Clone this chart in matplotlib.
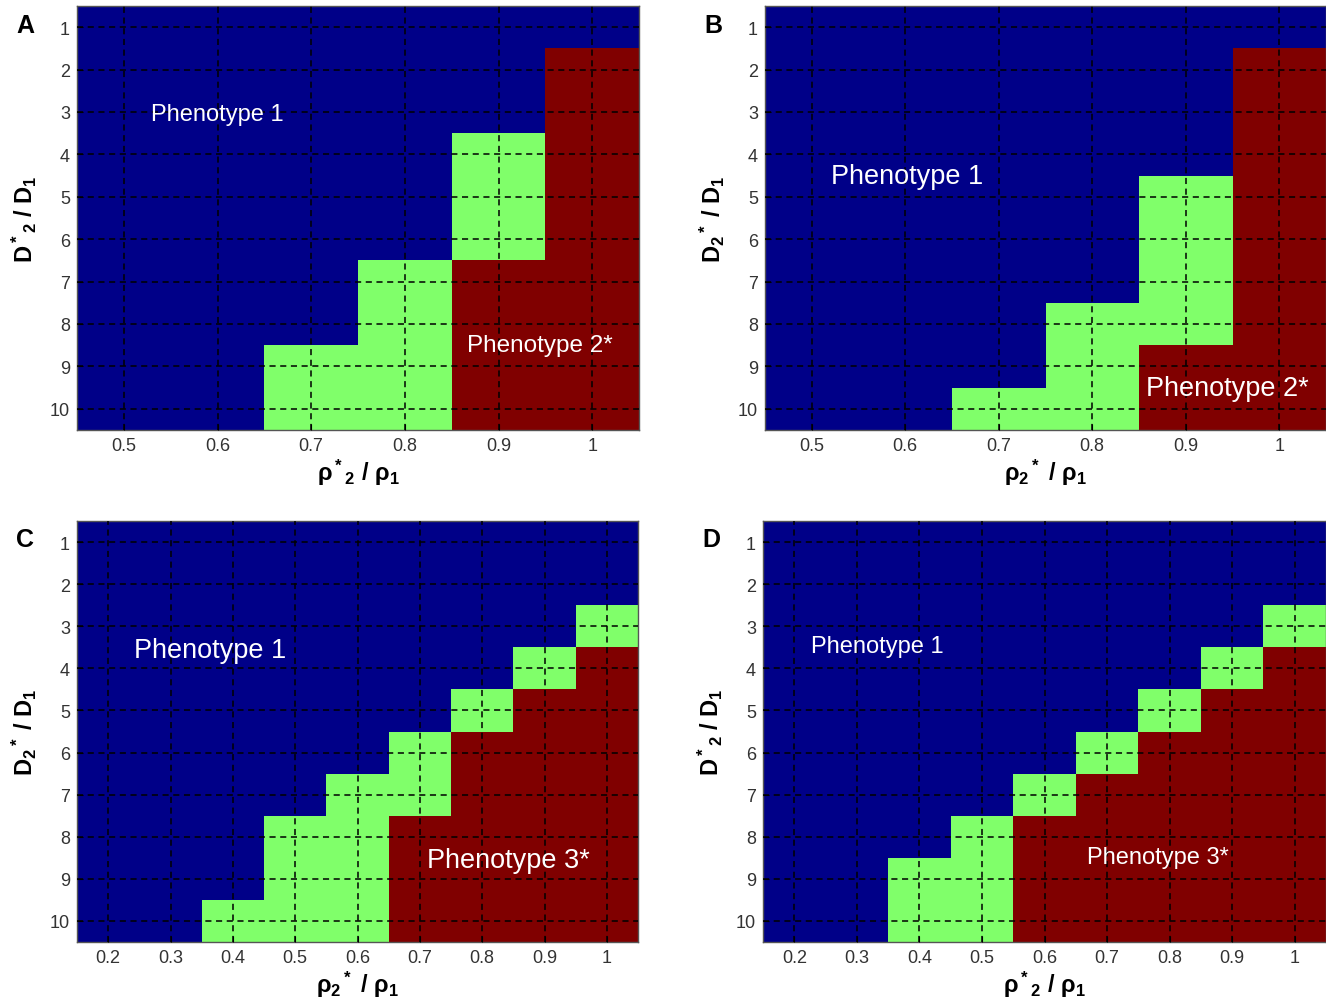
import numpy as np
import matplotlib
matplotlib.use("Agg")
import matplotlib.pyplot as plt
from matplotlib.colors import ListedColormap

plt.rcParams['font.family'] = ['Liberation Sans', 'DejaVu Sans']
plt.rcParams['mathtext.fontset'] = 'custom'
plt.rcParams['mathtext.rm'] = 'Liberation Sans'
plt.rcParams['mathtext.bf'] = 'Liberation Sans:bold'
plt.rcParams['mathtext.it'] = 'Liberation Sans:italic'
plt.rcParams['mathtext.sf'] = 'Liberation Sans'

# Phenotype codes: 0 = Phenotype 1 (blue), 1 = mixed (green), 2 = Phenotype 2*/3* (red)
D_ratio = list(range(1, 11))                       # rows, D*2/D1 = 1..10
rho_AB = [0.5, 0.6, 0.7, 0.8, 0.9, 1.0]            # columns of panels A, B
rho_CD = [0.2, 0.3, 0.4, 0.5, 0.6, 0.7, 0.8, 0.9, 1.0]  # columns of panels C, D

# Each list: column-wise phenotype code for rows D = 1..10
grid_A = {
    0.5: [0,0,0,0,0,0,0,0,0,0],
    0.6: [0,0,0,0,0,0,0,0,0,0],
    0.7: [0,0,0,0,0,0,0,0,1,1],
    0.8: [0,0,0,0,0,0,1,1,1,1],
    0.9: [0,0,0,1,1,1,2,2,2,2],
    1.0: [0,2,2,2,2,2,2,2,2,2],
}
grid_B = {
    0.5: [0,0,0,0,0,0,0,0,0,0],
    0.6: [0,0,0,0,0,0,0,0,0,0],
    0.7: [0,0,0,0,0,0,0,0,0,1],
    0.8: [0,0,0,0,0,0,0,1,1,1],
    0.9: [0,0,0,0,1,1,1,1,2,2],
    1.0: [0,2,2,2,2,2,2,2,2,2],
}
grid_C = {
    0.2: [0,0,0,0,0,0,0,0,0,0],
    0.3: [0,0,0,0,0,0,0,0,0,0],
    0.4: [0,0,0,0,0,0,0,0,0,1],
    0.5: [0,0,0,0,0,0,0,1,1,1],
    0.6: [0,0,0,0,0,0,1,1,1,1],
    0.7: [0,0,0,0,0,1,1,2,2,2],
    0.8: [0,0,0,0,1,2,2,2,2,2],
    0.9: [0,0,0,1,2,2,2,2,2,2],
    1.0: [0,0,1,2,2,2,2,2,2,2],
}
grid_D = {
    0.2: [0,0,0,0,0,0,0,0,0,0],
    0.3: [0,0,0,0,0,0,0,0,0,0],
    0.4: [0,0,0,0,0,0,0,0,1,1],
    0.5: [0,0,0,0,0,0,0,1,1,1],
    0.6: [0,0,0,0,0,0,1,2,2,2],
    0.7: [0,0,0,0,0,1,2,2,2,2],
    0.8: [0,0,0,0,1,2,2,2,2,2],
    0.9: [0,0,0,1,2,2,2,2,2,2],
    1.0: [0,0,1,2,2,2,2,2,2,2],
}

xtick_AB = ['0.5', '0.6', '0.7', '0.8', '0.9', '1']
xtick_CD = ['0.2', '0.3', '0.4', '0.5', '0.6', '0.7', '0.8', '0.9', '1']

cmap = ListedColormap(['#000088', '#80FF6A', '#800000'])

W, H = 1326, 1003
fig = plt.figure(figsize=(W / 100, H / 100), dpi=100)

def px_axes(l, r, t, b):
    return fig.add_axes([l / W, 1 - b / H, (r - l) / W, (b - t) / H])

XL_A = r'$\mathbf{ρ^*{}_2\ /\ ρ_1}$'
XL_B = r'$\mathbf{ρ_2{}^*\ /\ ρ_1}$'
YL_A = r'$\mathbf{D^*{}_2\ /\ D_1}$'
YL_B = r'$\mathbf{D_2{}^*\ /\ D_1}$'

panels = [
    dict(letter='A', box=(77, 639, 7, 431), rho=rho_AB, grid=grid_A, xt=xtick_AB,
         xlabel=XL_A, ylabel=YL_A,
         texts=[('Phenotype 1', 0.60, 3.05, 17), ('Phenotype 2*', 0.944, 8.49, 17.5)]),
    dict(letter='B', box=(765, 1326, 7, 431), rho=rho_AB, grid=grid_B, xt=xtick_AB,
         xlabel=XL_B, ylabel=YL_B,
         texts=[('Phenotype 1', 0.602, 4.5, 19.5), ('Phenotype 2*', 0.944, 9.5, 19.5)]),
    dict(letter='C', box=(77, 638, 522, 943), rho=rho_CD, grid=grid_C, xt=xtick_CD,
         xlabel=XL_B, ylabel=YL_B,
         texts=[('Phenotype 1', 0.363, 3.56, 19.5), ('Phenotype 3*', 0.842, 8.55, 19.5)]),
    dict(letter='D', box=(763, 1326, 522, 943), rho=rho_CD, grid=grid_D, xt=xtick_CD,
         xlabel=XL_A, ylabel=YL_A,
         texts=[('Phenotype 1', 0.332, 3.47, 17), ('Phenotype 3*', 0.781, 8.48, 17)]),
]

for p in panels:
    l, r, t, b = p['box']
    ax = px_axes(l, r, t, b)
    rho = p['rho']
    Z = np.array([p['grid'][c] for c in rho]).T  # rows = D, cols = rho
    step = 0.1
    xedges = np.concatenate([[rho[0] - step / 2], np.array(rho) + step / 2])
    yedges = np.arange(0.5, len(D_ratio) + 1, 1.0)
    ax.pcolormesh(xedges, yedges, Z, cmap=cmap, vmin=-0.5, vmax=2.5, shading='flat')
    ax.set_xlim(xedges[0], xedges[-1])
    ax.set_ylim(yedges[-1], yedges[0])
    ax.set_xticks(rho)
    ax.set_xticklabels(p['xt'])
    ax.set_yticks(D_ratio)
    ax.set_yticklabels([str(d) for d in D_ratio])
    ax.tick_params(direction='in', length=4, width=0.8, labelsize=13,
                   labelcolor='#333333', color='black', pad=5)
    ax.grid(True, color='black', linestyle=(0, (4, 3)), linewidth=1.1)
    ax.set_axisbelow(False)
    for s in ax.spines.values():
        s.set_color('#555555')
        s.set_linewidth(1.0)
    ax.set_xlabel(p['xlabel'], fontsize=17, labelpad=2)
    ax.set_ylabel(p['ylabel'], fontsize=17, labelpad=8)
    for txt, x, y, fs in p['texts']:
        ax.text(x, y, txt, color='white', fontsize=fs, ha='center', va='center')
    fig.text((l - 52) / W, 1 - 26 / H if t < 100 else 1 - 540 / H, p['letter'],
             fontsize=18, fontweight='bold', ha='center', va='center')

fig.savefig('out.png', dpi=100)
